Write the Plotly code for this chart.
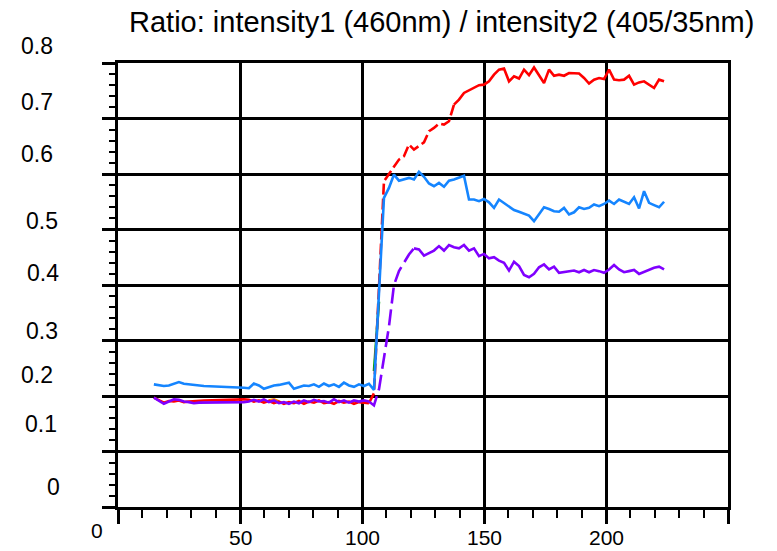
import plotly.graph_objects as go

# ---------------- data ----------------
time_s = [14.7, 16.75, 18.8, 20.85, 22.9, 24.95, 27.0, 29.05, 31.1, 33.15, 35.2,
          51.6, 53.65, 55.7, 57.75, 59.8, 61.85, 63.9, 65.95, 68.0, 70.05,
          72.1, 74.15, 76.2, 78.25, 80.3, 82.35, 84.4, 86.45, 88.5, 90.55,
          92.6, 94.65, 96.7, 98.75, 100.8, 102.85, 104.9, 106.95, 109.0, 111.05,
          113.1, 115.15, 117.2, 119.25, 121.3, 123.35, 125.4, 127.45, 129.5, 131.55,
          133.6, 135.65, 137.7, 139.75, 141.8, 143.85, 145.9, 147.95, 150.0, 152.05,
          154.1, 156.15, 158.2, 160.25, 162.3, 164.35, 166.4, 168.45, 170.5, 172.55,
          174.6, 176.65, 178.7, 180.75, 182.8, 184.85, 186.9, 188.95, 191.0, 193.05,
          195.1, 197.15, 199.2, 201.25, 203.3, 205.35, 207.4, 209.45, 211.5, 213.55,
          215.6, 217.65, 219.7, 221.75, 223.8]

ratio_red = [0.197, 0.193, 0.188, 0.191, 0.190, 0.192, 0.189, 0.190, 0.191, 0.192, 0.192,
             0.194, 0.193, 0.190, 0.192, 0.188, 0.191, 0.187, 0.190, 0.186, 0.189,
             0.187, 0.191, 0.186, 0.190, 0.188, 0.192, 0.187, 0.189, 0.186, 0.191,
             0.188, 0.190, 0.186, 0.189, 0.188, 0.187, 0.205, 0.395, 0.587, 0.600,
             0.612, 0.626, 0.632, 0.653, 0.644, 0.650, 0.657, 0.677, 0.683, 0.691,
             0.689, 0.695, 0.725, 0.734, 0.746, 0.751, 0.755, 0.760, 0.761, 0.767,
             0.779, 0.788, 0.790, 0.767, 0.776, 0.772, 0.788, 0.778, 0.792, 0.779,
             0.764, 0.788, 0.777, 0.779, 0.777, 0.782, 0.781, 0.781, 0.773, 0.763,
             0.770, 0.773, 0.771, 0.788, 0.770, 0.769, 0.770, 0.777, 0.761, 0.765,
             0.767, 0.761, 0.755, 0.770, 0.767]

ratio_purple = [0.197, 0.192, 0.186, 0.190, 0.194, 0.193, 0.190, 0.189, 0.187, 0.188, 0.188,
                0.189, 0.190, 0.193, 0.190, 0.194, 0.189, 0.192, 0.187, 0.189, 0.186,
                0.190, 0.187, 0.192, 0.189, 0.193, 0.190, 0.191, 0.188, 0.194, 0.189,
                0.192, 0.188, 0.192, 0.190, 0.192, 0.190, 0.183, 0.212, 0.268, 0.325,
                0.400, 0.425, 0.440, 0.455, 0.466, 0.464, 0.453, 0.458, 0.462, 0.470,
                0.462, 0.472, 0.468, 0.466, 0.472, 0.462, 0.466, 0.452, 0.456, 0.448,
                0.450, 0.444, 0.440, 0.426, 0.442, 0.434, 0.418, 0.414, 0.420, 0.432,
                0.437, 0.428, 0.433, 0.422, 0.423, 0.424, 0.426, 0.423, 0.427, 0.423,
                0.427, 0.425, 0.422, 0.428, 0.436, 0.428, 0.423, 0.425, 0.427, 0.420,
                0.424, 0.427, 0.431, 0.433, 0.428]

ratio_blue = [0.221, 0.219, 0.218, 0.219, 0.2225, 0.225, 0.222, 0.221, 0.219, 0.219, 0.218,
              0.215, 0.214, 0.2225, 0.219, 0.213, 0.2165, 0.219, 0.220, 0.2225, 0.224,
              0.213, 0.2165, 0.219, 0.218, 0.221, 0.2165, 0.2225, 0.218, 0.221, 0.2165,
              0.224, 0.219, 0.2165, 0.221, 0.218, 0.222, 0.211, 0.385, 0.557, 0.575,
              0.599, 0.588, 0.590, 0.593, 0.590, 0.604, 0.595, 0.583, 0.578, 0.584,
              0.577, 0.588, 0.590, 0.593, 0.597, 0.554, 0.554, 0.551, 0.555, 0.549,
              0.539, 0.554, 0.548, 0.541, 0.535, 0.532, 0.528, 0.525, 0.515, 0.527,
              0.540, 0.537, 0.533, 0.532, 0.539, 0.527, 0.531, 0.540, 0.537, 0.539,
              0.545, 0.542, 0.546, 0.552, 0.546, 0.554, 0.550, 0.546, 0.558, 0.538,
              0.569, 0.548, 0.544, 0.540, 0.550]

green_time = [104.9, 106.95]
ratio_green = [0.245, 0.37]

orange_time = [61.85, 63.9, 65.95]
ratio_orange = [0.192, 0.194, 0.190]

title_text = "Ratio: intensity1 (460nm) / intensity2 (405/35nm)"
x_tick_values = [0, 50, 100, 150, 200]
x_tick_labels = ["0", "50", "100", "150", "200"]
y_tick_values = [0, 0.1, 0.2, 0.3, 0.4, 0.5, 0.6, 0.7, 0.8]
y_tick_labels = ["0", "0.1", "0.2", "0.3", "0.4", "0.5", "0.6", "0.7", "0.8"]

# ---------------- style ----------------
FONT = "Liberation Sans, Arial, Helvetica, sans-serif"
LW = 2.6
colors = {"red": "#ff0000", "purple": "#8000ff", "blue": "#1585ff",
          "green": "#00a000", "orange": "#ff8c00"}
dash_span = {"red": (102.85, 137.7), "purple": (102.85, 121.3)}
dash_style = {"red": "11px,4px", "purple": "16px,6px"}
# label placement offsets (pixels) as in the original figure
y_label_xshift = [-56, -59, -63, -58, -57, -58, -63, -63, -63]
y_label_yshift = [20, 28, 21, 10, 12, 9, 20, 17, 17]
x_label_xshift = [-21, 0, 0, 0, 0]
x_label_yshift = [-23, -30, -30, -30, -30]

fig = go.Figure()


def add_line(t, v, color, dash="solid"):
    fig.add_trace(go.Scatter(x=t, y=v, mode="lines",
                             line=dict(color=color, width=LW, dash=dash),
                             hoverinfo="skip", showlegend=False))


def add_series(t, v, name):
    if name in dash_span:
        lo, hi = dash_span[name]
        pre = [(a, b) for a, b in zip(t, v) if a <= lo]
        mid = [(a, b) for a, b in zip(t, v) if lo <= a <= hi]
        post = [(a, b) for a, b in zip(t, v) if a >= hi]
        for part, d in ((pre, "solid"), (mid, dash_style[name]), (post, "solid")):
            if len(part) > 1:
                add_line([p[0] for p in part], [p[1] for p in part], colors[name], d)
    else:
        add_line(t, v, colors[name])


add_series(orange_time, ratio_orange, "orange")
add_series(green_time, ratio_green, "green")
add_series(time_s, ratio_red, "red")
add_series(time_s, ratio_purple, "purple")
add_series(time_s, ratio_blue, "blue")

annotations = []
for val, lab, dx, dy in zip(y_tick_values, y_tick_labels, y_label_xshift, y_label_yshift):
    annotations.append(dict(x=0, y=val, xref="paper", yref="y", text=lab,
                            showarrow=False, xanchor="right", yanchor="middle",
                            xshift=dx, yshift=dy,
                            font=dict(family=FONT, size=23, color="black")))
for val, lab, dx, dy in zip(x_tick_values, x_tick_labels, x_label_xshift, x_label_yshift):
    annotations.append(dict(x=val, y=0, xref="x", yref="paper", text=lab,
                            showarrow=False, xanchor="center", yanchor="middle",
                            xshift=dx, yshift=dy, borderpad=0,
                            font=dict(family=FONT, size=21, color="black")))
annotations.append(dict(x=0.531, y=1, xref="paper", yref="paper", text=title_text,
                        showarrow=False, xanchor="center", yanchor="middle",
                        yshift=41, font=dict(family=FONT, size=29, color="black")))

axis_common = dict(showticklabels=False, ticks="outside", tickwidth=3, tickcolor="black",
                   showgrid=True, gridcolor="black", gridwidth=3,
                   showline=True, linecolor="black", linewidth=3, mirror=True,
                   zeroline=False, tick0=0)

fig.update_xaxes(range=[0, 250], dtick=50, ticklen=14,
                 minor=dict(dtick=10, tick0=0, ticks="outside", ticklen=8, tickwidth=2,
                            tickcolor="black", showgrid=False),
                 **axis_common)
fig.update_yaxes(range=[0, 0.8], dtick=0.1, ticklen=13,
                 minor=dict(dtick=0.02, tick0=0, ticks="outside", ticklen=6, tickwidth=2,
                            tickcolor="black", showgrid=False),
                 **axis_common)

fig.update_layout(width=777, height=551,
                  margin=dict(l=118, r=49, t=63, b=44),
                  paper_bgcolor="white", plot_bgcolor="white",
                  showlegend=False, hovermode=False,
                  font=dict(family=FONT, color="black"),
                  annotations=annotations)

fig.write_html("out.html", config={"displayModeBar": False},
               post_script="document.body.style.margin='0px';document.body.style.overflow='hidden';")
